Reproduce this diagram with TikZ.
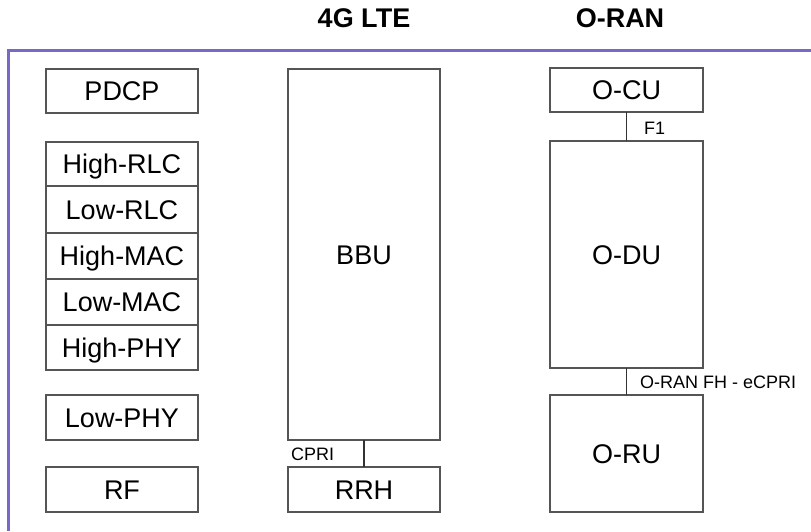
\documentclass[tikz,border=0pt]{standalone}
\usepackage{fontspec}
\setmainfont{Liberation Sans}
\definecolor{frame}{RGB}{122,104,200}
\definecolor{boxline}{RGB}{85,85,85}
\begin{document}
\begin{tikzpicture}[x=1pt,y=-1pt,
  blk/.style={draw=boxline,line width=1.3pt,inner sep=0pt,outer sep=0pt,
    font=\fontsize{27}{30}\selectfont,text=black,text height=19.3pt,text depth=0pt},
  lnk/.style={draw=black!80,line width=1.2pt},
  lbl/.style={inner sep=0pt,anchor=west,font=\fontsize{18}{20}\selectfont},
  ttl/.style={inner sep=0pt,font=\fontsize{27}{30}\selectfont\bfseries}]
\useasboundingbox (0,0) rectangle (811,531);
% frame
\draw[frame,line width=3pt] (8.5,531) -- (8.5,50) -- (811,50);
% titles
\node[ttl] (t1) at (364,18) {4G LTE};
\node[ttl] (t2) at (620,18) {O-RAN};
% left stack
\node[blk,minimum width=152pt,minimum height=44pt] (pdcp) at (122,91) {PDCP};
\node[blk,minimum width=152pt,minimum height=44pt] (hrlc) at (122,164) {High-RLC};
\node[blk,minimum width=152pt,minimum height=47pt] (lrlc) at (122,209.5) {Low-RLC};
\node[blk,minimum width=152pt,minimum height=46pt] (hmac) at (122,256) {High-MAC};
\node[blk,minimum width=152pt,minimum height=46pt] (lmac) at (122,302) {Low-MAC};
\node[blk,minimum width=152pt,minimum height=45pt] (hphy) at (122,347.5) {High-PHY};
\node[blk,minimum width=152pt,minimum height=45pt] (lphy) at (122,417.5) {Low-PHY};
\node[blk,minimum width=152pt,minimum height=45pt] (rf) at (122,489.5) {RF};
% 4G LTE
\node[blk,minimum width=152pt,minimum height=371pt] (bbu) at (364,254.5) {BBU};
\node[blk,minimum width=152pt,minimum height=45pt] (rrh) at (364,489.5) {RRH};
\draw[lnk] (bbu.south) -- (rrh.north);
\node[lbl] (cpri) at (291,454) {CPRI};
% O-RAN
\node[blk,minimum width=153pt,minimum height=44pt] (ocu) at (626.5,90) {O-CU};
\node[blk,minimum width=153pt,minimum height=227pt] (odu) at (626.5,254.5) {O-DU};
\node[blk,minimum width=153pt,minimum height=117pt] (oru) at (626.5,453.5) {O-RU};
\draw[lnk] (ocu.south) -- (odu.north);
\draw[lnk] (odu.south) -- (oru.north);
\node[lbl] (f1) at (644,128) {F1};
\node[lbl] (fh) at (640,382) {O-RAN FH - eCPRI};
\end{tikzpicture}
\end{document}
